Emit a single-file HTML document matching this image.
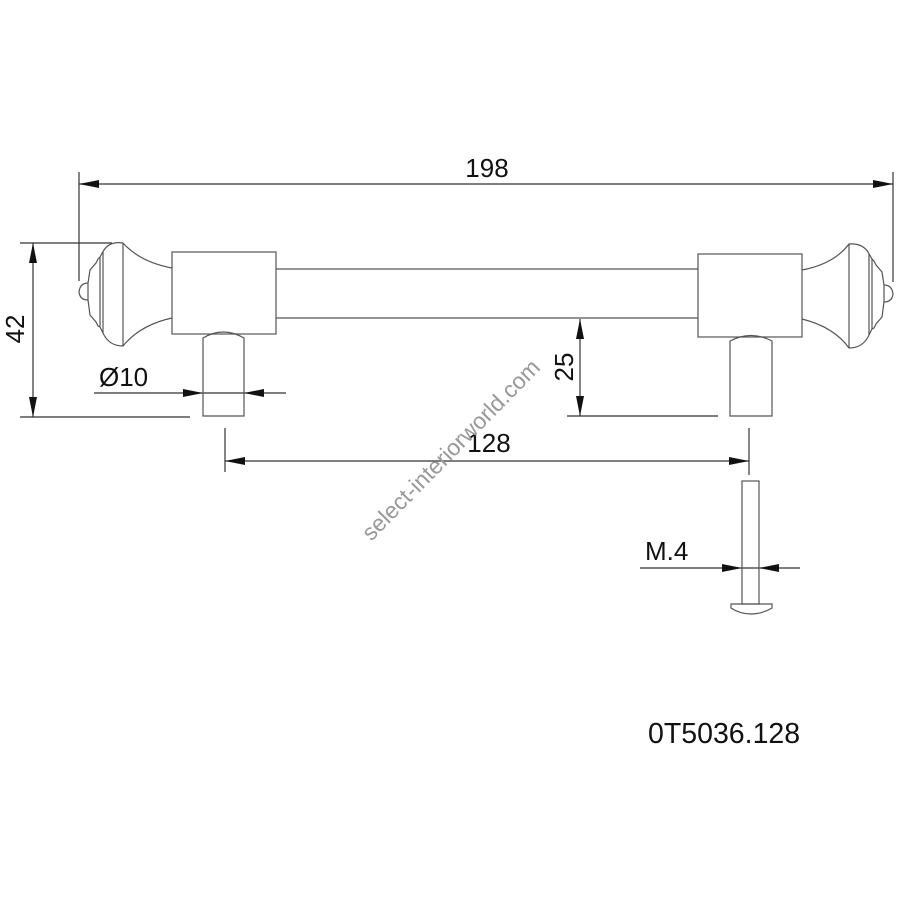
<!DOCTYPE html>
<html><head><meta charset="utf-8"><style>html,body{margin:0;padding:0;background:#fff}svg{display:block}</style></head>
<body>
<svg width="900" height="900" viewBox="0 0 900 900" xmlns="http://www.w3.org/2000/svg" font-family="Liberation Sans, Arial, sans-serif">
<g fill="none" stroke="#333" stroke-width="1.2">
<line x1="79" y1="172" x2="79" y2="281"/>
<line x1="893" y1="172" x2="893" y2="282"/>
<line x1="79" y1="184" x2="893" y2="184"/>
<line x1="20" y1="243" x2="112" y2="243"/>
<line x1="20" y1="417" x2="190" y2="417"/>
<line x1="33" y1="243" x2="33" y2="417"/>
<line x1="567" y1="416" x2="718" y2="416"/>
<line x1="580" y1="319" x2="580" y2="416"/>
<line x1="225" y1="428" x2="225" y2="472"/>
<line x1="749" y1="428" x2="749" y2="475"/>
<line x1="225" y1="461" x2="749" y2="461"/>
<line x1="94" y1="393" x2="286" y2="393"/>
<line x1="640" y1="568" x2="800" y2="568"/>
</g>
<g fill="#111">
<polygon points="79,184 99,180 99,188"/>
<polygon points="893,184 873,180 873,188"/>
<polygon points="33,243 29,263 37,263"/>
<polygon points="33,417 29,397 37,397"/>
<polygon points="580,319 576,339 584,339"/>
<polygon points="580,416 576,396 584,396"/>
<polygon points="225,461 245,457 245,465"/>
<polygon points="749,461 729,457 729,465"/>
<polygon points="203,393 183,389 183,397"/>
<polygon points="244,393 264,389 264,397"/>
<polygon points="742,568 722,564 722,572"/>
<polygon points="759,568 779,564 779,572"/>
</g>
<g fill="none" stroke="#555" stroke-width="1.2">
<line x1="276" y1="269" x2="698" y2="269"/>
<line x1="276" y1="318" x2="698" y2="318"/>
<rect x="172" y="252" width="104" height="82"/>
<path d="M203,416 V338 Q223,326 244,338 V416 Z"/>
<path d="M172,268 Q140,262 123,243 Q110,241 104,250 L100,257 L98,259 L96,263 L90,270 L88,283 Q80,283 79,292 Q80,300 88,300 L90,315 L96,322 L98,326 L100,327 L104,335 Q110,346 123,346 Q140,325 172,318"/>
<line x1="123" y1="243" x2="123" y2="346"/>
<line x1="100" y1="257" x2="100" y2="327"/>
<line x1="103" y1="252" x2="103" y2="333"/>
<line x1="88" y1="283" x2="88" y2="300"/>
<rect x="698" y="254" width="104" height="83"/>
<path d="M730,416 V341 Q751,330 772,341 V416 Z"/>
<path d="M802,270 Q834,264 849,244 Q862,243 868,252 L872,259 L874,261 L876,265 L882,272 L884,285 Q892,285 893,294 Q892,302 884,302 L882,317 L876,324 L874,328 L872,329 L868,337 Q862,348 849,348 Q834,327 802,319"/>
<line x1="849" y1="244" x2="849" y2="348"/>
<line x1="872" y1="259" x2="872" y2="329"/>
<line x1="869" y1="254" x2="869" y2="335"/>
<line x1="884" y1="285" x2="884" y2="302"/>
<rect x="742" y="481" width="17" height="123"/>
<path d="M731,604 H772 V608 Q762,614 751,614 Q740,614 731,608 Z"/>
</g>
<g fill="#111" font-size="26">
<text x="487" y="177" text-anchor="middle">198</text>
<text x="489" y="452" text-anchor="middle">128</text>
<text x="99" y="386">Ø10</text>
<text x="645" y="560">M.4</text>
<text x="648" y="743" font-size="28.5">0T5036.128</text>
<text transform="translate(24,329) rotate(-90)" text-anchor="middle">42</text>
<text transform="translate(573,367) rotate(-90)" text-anchor="middle">25</text>
</g>
<text transform="translate(452,451) rotate(-45.5)" text-anchor="middle" dominant-baseline="middle" font-size="23" fill="#999">select-interiorworld.com</text>
</svg>
</body></html>
